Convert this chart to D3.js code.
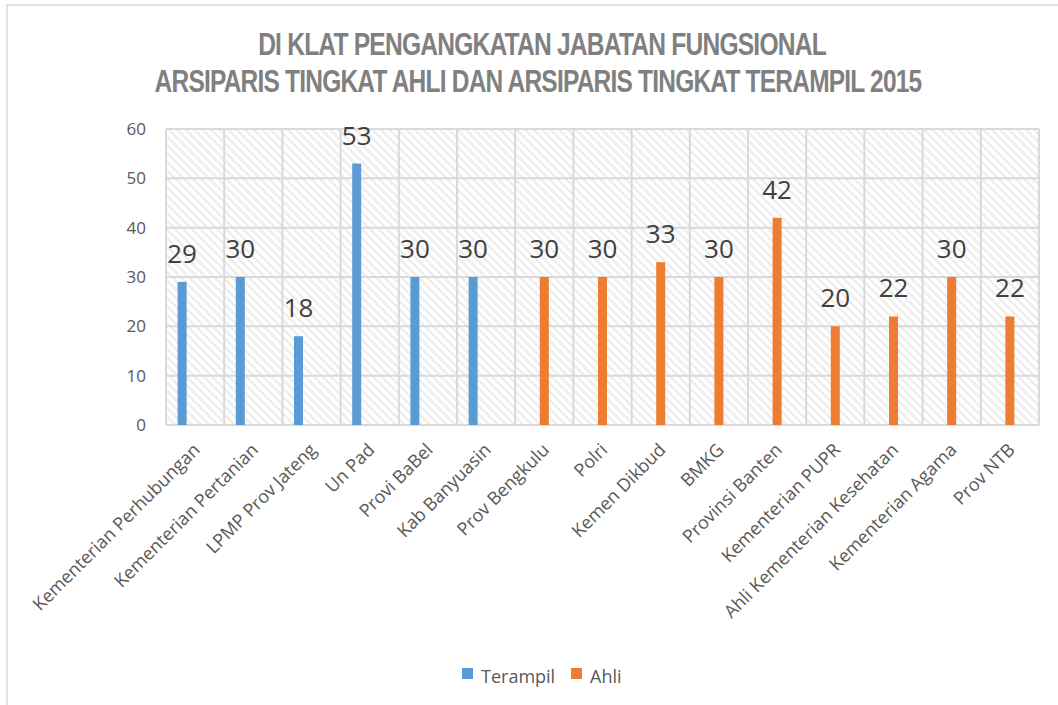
<!DOCTYPE html>
<html>
<head>
<meta charset="utf-8">
<script src="https://cdnjs.cloudflare.com/ajax/libs/d3/7.8.5/d3.min.js"></script>
<style>
  body { margin: 0; background: #ffffff; }
  text { font-family: "Open Sans", sans-serif; }
</style>
</head>
<body>
<div id="chart"></div>
<script>
var categories = ["Kementerian Perhubungan", "Kementerian Pertanian", "LPMP Prov Jateng", "Un Pad",
    "Provi BaBel", "Kab Banyuasin", "Prov Bengkulu", "Polri", "Kemen Dikbud", "BMKG",
    "Provinsi Banten", "Kementerian PUPR", "Ahli Kementerian Kesehatan", "Kementerian Agama", "Prov NTB"];
var terampil = [29, 30, 18, 53, 30, 30, null, null, null, null, null, null, null, null, null];
var ahli = [null, null, null, null, null, null, 30, 30, 33, 30, 42, 20, 22, 30, 22];
var seriesNames = ["Terampil", "Ahli"];
var seriesColors = ["#5b9bd5", "#ed7d31"];
var yTicks = [0, 10, 20, 30, 40, 50, 60];
var titleLines = ["DI KLAT PENGANGKATAN JABATAN FUNGSIONAL",
    "ARSIPARIS TINGKAT AHLI DAN ARSIPARIS TINGKAT TERAMPIL 2015"];

var width = 1058, height = 705;
var margin = {top: 129, right: 19, bottom: 280, left: 166};
var innerW = width - margin.left - margin.right,
    innerH = height - margin.top - margin.bottom;

var svg = d3.select("#chart").append("svg")
    .attr("width", width)
    .attr("height", height);

// chart frame (only top and left visible in the crop)
svg.append("rect")
    .attr("x", 7).attr("y", 5)
    .attr("width", 1100).attr("height", 750)
    .attr("fill", "none")
    .attr("stroke", "#d9d9d9")
    .attr("stroke-width", 1.5);

var defs = svg.append("defs");
var pat = defs.append("pattern")
    .attr("id", "hatch")
    .attr("patternUnits", "userSpaceOnUse")
    .attr("width", 6).attr("height", 6)
    .attr("patternTransform", "rotate(-45)");
pat.append("rect").attr("width", 6).attr("height", 6).attr("fill", "#ffffff");
pat.append("line")
    .attr("x1", 1.5).attr("y1", 0).attr("x2", 1.5).attr("y2", 6)
    .attr("stroke", "#e9e9e9").attr("stroke-width", 2);

var x = d3.scaleBand().domain(categories).range([0, innerW]);
var xs = d3.scalePoint().domain(seriesNames).range([-13, 0]);
var y = d3.scaleLinear().domain([0, 60]).range([innerH, 0]);

var g = svg.append("g")
    .attr("transform", "translate(" + margin.left + "," + margin.top + ")");

g.append("rect")
    .attr("width", innerW).attr("height", innerH)
    .attr("fill", "url(#hatch)");

// gridlines
g.append("g").selectAll("line").data(yTicks).enter()
    .append("line")
    .attr("x1", 0).attr("x2", innerW)
    .attr("y1", function(d) { return y(d); })
    .attr("y2", function(d) { return y(d); })
    .attr("stroke", "#d9d9d9").attr("stroke-width", 2);

var bounds = categories.map(function(c) { return x(c); }).concat([innerW]);
g.append("g").selectAll("line").data(bounds).enter()
    .append("line")
    .attr("x1", function(d) { return d; }).attr("x2", function(d) { return d; })
    .attr("y1", 0).attr("y2", innerH)
    .attr("stroke", "#d9d9d9").attr("stroke-width", 2);

// y axis labels
var yAxis = g.append("g")
    .call(d3.axisLeft(y).tickValues(yTicks).tickSize(0).tickPadding(20));
yAxis.select(".domain").remove();
yAxis.selectAll("text")
    .style("font-family", "'Open Sans', sans-serif")
    .style("font-size", "17px")
    .attr("fill", "#595959");

// x axis labels
var xAxis = g.append("g")
    .attr("transform", "translate(0," + innerH + ")")
    .call(d3.axisBottom(x).tickSize(0).tickPadding(0));
xAxis.select(".domain").remove();
xAxis.selectAll("text")
    .style("font-family", "'Open Sans', sans-serif")
    .style("font-size", "18px")
    .attr("fill", "#595959")
    .attr("text-anchor", "end")
    .attr("dy", 0)
    .attr("transform", "translate(6,26) rotate(-45)");

// bars
var data = [];
categories.forEach(function(c, i) {
    if (terampil[i] != null) data.push({cat: c, s: 0, v: terampil[i]});
    if (ahli[i] != null) data.push({cat: c, s: 1, v: ahli[i]});
});
var barW = 9;
var cx = function(d) { return x(d.cat) + x.bandwidth() / 2 + xs(seriesNames[d.s]); };

g.append("g").selectAll("rect").data(data).enter()
    .append("rect")
    .attr("x", function(d) { return cx(d) - barW / 2; })
    .attr("y", function(d) { return y(d.v); })
    .attr("width", barW)
    .attr("height", function(d) { return y(0) - y(d.v); })
    .attr("fill", function(d) { return seriesColors[d.s]; });

g.append("g").selectAll("text").data(data).enter()
    .append("text")
    .attr("x", cx)
    .attr("y", function(d) { return y(d.v) - 19; })
    .attr("text-anchor", "middle")
    .style("font-size", "26px")
    .attr("fill", "#404040")
    .text(function(d) { return d.v; });

// title: condensed bold, squeezed horizontally to fit the original widths
var titleW = [568, 767], titleX = [542, 538], titleY = [55, 92];
titleLines.forEach(function(t, i) {
    var tg = svg.append("g");
    var tt = tg.append("text")
        .attr("text-anchor", "middle")
        .style("font-family", "'Liberation Sans', Arial, sans-serif")
        .style("font-weight", "bold")
        .style("font-size", "31px")
        .style("letter-spacing", "-1px")
        .attr("fill", "#808080")
        .text(t);
    var k = titleW[i] / tt.node().getComputedTextLength();
    tg.attr("transform", "translate(" + titleX[i] + "," + titleY[i] + ") scale(" + k + ",1)");
});

// legend
var legendX = [462, 571];
var legend = svg.append("g").selectAll("g").data(seriesNames).enter()
    .append("g")
    .attr("transform", function(d, i) { return "translate(" + legendX[i] + ",668)"; });
legend.append("rect")
    .attr("width", 11).attr("height", 11)
    .attr("fill", function(d, i) { return seriesColors[i]; });
legend.append("text")
    .attr("x", 19).attr("y", 15)
    .style("font-size", "18px")
    .attr("fill", "#595959")
    .text(function(d) { return d; });
</script>
</body>
</html>
